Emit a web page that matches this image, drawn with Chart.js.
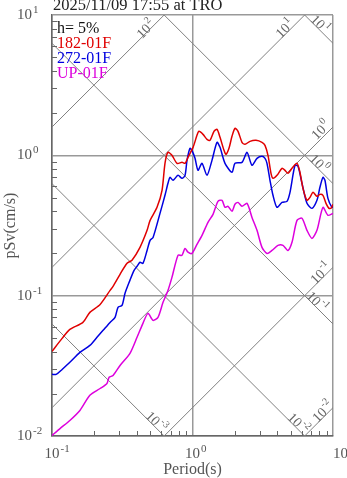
<!DOCTYPE html>
<html>
<head>
<meta charset="utf-8">
<script src="https://cdn.jsdelivr.net/npm/chart.js@4.4.1/dist/chart.umd.min.js"></script>
<style>
  html, body { margin: 0; padding: 0; background: #fff; }
  #wrap { width: 347px; height: 478px; }
</style>
</head>
<body>
<div id="wrap"><canvas id="chart" width="347" height="478"></canvas></div>
<script>
// ===== data =====
const redPeriod = [0.1,0.118,0.134,0.166,0.186,0.22,0.259,0.272,0.305,0.342,0.371,0.423,0.475,0.499,0.559,0.607,0.637,0.669,0.714,0.776,0.842,0.885,0.929,1.009,1.076,1.112,1.188,1.268,1.333,1.422,1.494,1.57,1.675,1.732,1.818,1.91,2.006,2.109,2.25,2.363,2.566,2.831,3.123,3.281,3.446,3.62,3.74,3.993,4.333,4.553,4.783,5.106,5.542,5.821,6.114,6.527,6.855,7.2,7.686,8.073,8.48,8.913,9.365,9.677,10];
const redSv = [0.0401,0.0496,0.0575,0.0645,0.076,0.0865,0.109,0.1165,0.142,0.17,0.179,0.221,0.292,0.344,0.426,0.563,0.877,1.05,1.0,0.877,0.891,0.877,0.968,1.14,1.388,1.483,1.411,1.3,1.279,1.483,1.532,1.344,1.085,1.016,1.122,1.366,1.557,1.483,1.238,1.198,1.258,1.279,1.238,1.178,1.0,0.744,0.686,0.72,0.808,0.782,0.744,0.808,0.877,0.757,0.582,0.478,0.502,0.545,0.51,0.527,0.519,0.455,0.419,0.419,0.448];

const bluePeriod = [0.1,0.107,0.118,0.134,0.158,0.186,0.209,0.231,0.259,0.281,0.295,0.315,0.331,0.359,0.383,0.403,0.423,0.444,0.475,0.499,0.524,0.587,0.637,0.669,0.692,0.727,0.789,0.842,0.885,0.914,0.959,0.991,1.042,1.094,1.169,1.268,1.376,1.494,1.57,1.703,1.91,2.006,2.25,2.443,2.651,2.878,3.123,3.281,3.39,3.561,3.74,3.993,4.333,4.705,4.942,5.364,5.634,6.014,6.527,7.083,7.686,8.073,8.48,8.762,9.204,9.825,10];
const blueSv = [0.0275,0.0275,0.0298,0.0335,0.0394,0.0442,0.0505,0.0566,0.0645,0.07,0.0826,0.0853,0.104,0.129,0.151,0.162,0.173,0.17,0.21,0.248,0.26,0.386,0.519,0.632,0.697,0.664,0.72,0.686,0.72,0.921,1.122,1.085,0.952,0.782,0.877,0.72,0.921,1.238,1.14,0.877,0.757,0.877,0.891,1.05,0.849,0.952,0.984,0.952,0.877,0.664,0.519,0.426,0.462,0.47,0.545,0.849,0.835,0.632,0.455,0.419,0.478,0.592,0.697,0.664,0.494,0.426,0.433];

const upPeriod = [0.1,0.114,0.134,0.158,0.186,0.22,0.246,0.255,0.272,0.305,0.359,0.403,0.444,0.482,0.524,0.568,0.617,0.669,0.714,0.789,0.842,0.885,0.929,0.991,1.076,1.169,1.289,1.4,1.518,1.622,1.703,1.79,1.91,2.006,2.109,2.25,2.443,2.651,2.878,3.123,3.39,3.68,4.059,4.405,4.783,5.106,5.542,6.014,6.527,7.083,7.686,8.48,9.204,10];
const upSv = [0.0101,0.0113,0.0129,0.0152,0.0195,0.0218,0.0237,0.0262,0.027,0.0318,0.0388,0.0505,0.0635,0.0748,0.0667,0.07,0.0896,0.109,0.135,0.194,0.194,0.217,0.204,0.2,0.232,0.269,0.333,0.38,0.47,0.478,0.426,0.433,0.399,0.448,0.462,0.433,0.455,0.361,0.292,0.221,0.2,0.21,0.228,0.228,0.21,0.24,0.344,0.356,0.292,0.256,0.292,0.426,0.374,0.386];

const seriesNames = ["182-01F", "272-01F", "UP-01F"];
const seriesColors = ["#e00000", "#0000e0", "#dd00dd"];

// tripartite guide lines: pseudo-acceleration (gal) and displacement (cm)
const accelLevels = [100, 10, 1, 0.1, 0.01];
const accelLabelPeriod = [0.459, 4.48, 8.07, 8.07, 8.34];
const dispLevels = [10, 1, 0.1, 0.01, 0.001];
const dispLabelPeriod = [8.2, 8.07, 7.81, 5.73, 0.559];

const periodTicks = [0.1, 1, 10];
const svTicks = [0.01, 0.1, 1, 10];

const titleText = "2025/11/09 17:55 at TRO";
const dampingText = "h= 5%";

const FONT = '"Liberation Serif", "Times New Roman", serif';
const TWO_PI = 2 * Math.PI;

function isDecade(v) {
  const l = Math.log10(v);
  return Math.abs(l - Math.round(l)) < 1e-6;
}

function toPoints(px, py) {
  return px.map((t, i) => ({ x: t, y: py[i] }));
}

// draw "10" with a raised exponent; x is where "10" starts
function drawPower(ctx, exp, x, y, size, color) {
  ctx.fillStyle = color;
  ctx.textAlign = "left";
  ctx.font = `${size}px ${FONT}`;
  ctx.fillText("10", x, y);
  const wb = ctx.measureText("10").width;
  ctx.font = `${Math.round(size * 0.7)}px ${FONT}`;
  ctx.fillText(String(exp), x + wb + 1, y - size * 0.4);
}

function powerWidth(ctx, exp, size) {
  ctx.font = `${size}px ${FONT}`;
  const wb = ctx.measureText("10").width;
  ctx.font = `${Math.round(size * 0.7)}px ${FONT}`;
  return wb + 1 + ctx.measureText(String(exp)).width;
}

const datasets = [];
[[redPeriod, redSv], [bluePeriod, blueSv], [upPeriod, upSv]].forEach(([p, s], i) => {
  datasets.push({
    data: toPoints(p, s),
    borderColor: seriesColors[i],
    borderWidth: 1.5,
    pointRadius: 0,
    tension: 0.25,
    showLine: true,
  });
});
accelLevels.forEach(a => {
  datasets.push({
    data: [0.1, 10].map(t => ({ x: t, y: a * t / TWO_PI })),
    borderColor: "#808080", borderWidth: 1, pointRadius: 0, showLine: true,
  });
});
dispLevels.forEach(d => {
  datasets.push({
    data: [0.01, 10].map(t => ({ x: t, y: TWO_PI * d / t })),
    borderColor: "#808080", borderWidth: 1, pointRadius: 0, showLine: true,
  });
});

const decoPlugin = {
  id: "deco",
  afterDraw(chart) {
    const { ctx, chartArea: a, scales: { x, y } } = chart;
    ctx.save();

    // minor ticks inside the frame
    ctx.strokeStyle = "#666";
    ctx.lineWidth = 1;
    ctx.beginPath();
    [0.1, 1].forEach(dec => {
      for (let k = 2; k <= 9; k++) {
        const px = Math.round(x.getPixelForValue(k * dec)) + 0.5;
        ctx.moveTo(px, a.bottom);
        ctx.lineTo(px, a.bottom - 5);
      }
    });
    [0.01, 0.1, 1].forEach(dec => {
      for (let k = 2; k <= 9; k++) {
        const py = Math.round(y.getPixelForValue(k * dec)) + 0.5;
        ctx.moveTo(a.left, py);
        ctx.lineTo(a.left + 5, py);
      }
    });
    ctx.stroke();

    // tick labels
    ctx.textBaseline = "alphabetic";
    periodTicks.forEach((t, i) => {
      const px = x.getPixelForValue(t);
      ctx.font = `15px ${FONT}`;
      const wb = ctx.measureText("10").width;
      // last label is pushed to start at the frame edge, as in the source
      const x0 = i === periodTicks.length - 1 ? px : px - wb / 2;
      drawPower(ctx, Math.round(Math.log10(t)), x0, a.bottom + 22, 15, "#555");
    });
    svTicks.forEach(v => {
      drawPower(ctx, Math.round(Math.log10(v)), 17, y.getPixelForValue(v) + 4, 15, "#555");
    });

    // axis titles
    ctx.fillStyle = "#555";
    ctx.font = `16px ${FONT}`;
    ctx.textAlign = "center";
    ctx.fillText("Period(s)", (a.left + a.right) / 2, 474);
    ctx.save();
    ctx.translate(15, (a.top + a.bottom) / 2);
    ctx.rotate(-Math.PI / 2);
    ctx.fillText("pSv(cm/s)", 0, 0);
    ctx.restore();

    // title
    ctx.textAlign = "left";
    ctx.fillStyle = "#222";
    ctx.font = `16.5px ${FONT}`;
    ctx.fillText(titleText, 53, 10);

    // legend
    ctx.font = `16px ${FONT}`;
    ctx.fillStyle = "#111";
    ctx.fillText(dampingText, 57, 33);
    seriesNames.forEach((n, i) => {
      ctx.fillStyle = seriesColors[i];
      ctx.fillText(n, 57, 48 + i * 15);
    });

    // guide line labels
    const label = (exp, t, sv, ang, dy) => {
      const px = x.getPixelForValue(t);
      const py = y.getPixelForValue(sv) + dy;
      ctx.save();
      ctx.translate(px, py);
      ctx.rotate(ang);
      ctx.textBaseline = "middle";
      const w = powerWidth(ctx, exp, 14);
      drawPower(ctx, exp, -w / 2, 2, 14, "#666");
      ctx.restore();
    };
    const accelDy = [-6, -8, -11, -8, -8];
    accelLevels.forEach((lv, i) => {
      const t = accelLabelPeriod[i];
      label(Math.round(Math.log10(lv)), t, lv * t / TWO_PI, -Math.PI / 4, accelDy[i]);
    });
    dispLevels.forEach((lv, i) => {
      const t = dispLabelPeriod[i];
      label(Math.round(Math.log10(lv)), t, TWO_PI * lv / t, Math.PI / 4, -8);
    });

    ctx.restore();
  },
};

const axisCommon = {
  type: "logarithmic",
  ticks: { display: false },
  grid: {
    drawTicks: false,
    lineWidth: 1.5,
    color: c => (isDecade(c.tick.value) ? "#999" : "rgba(0,0,0,0)"),
  },
  border: { color: "#666", width: 1.5 },
};

new Chart(document.getElementById("chart"), {
  type: "scatter",
  data: { datasets },
  options: {
    responsive: false,
    animation: false,
    devicePixelRatio: 1,
    layout: { padding: { left: 52, right: 14, top: 15, bottom: 42 } },
    plugins: { legend: { display: false }, tooltip: { enabled: false } },
    scales: {
      x: { ...axisCommon, min: 0.1, max: 10 },
      y: { ...axisCommon, min: 0.01, max: 10 },
    },
  },
  plugins: [decoPlugin],
});
</script>
</body>
</html>
